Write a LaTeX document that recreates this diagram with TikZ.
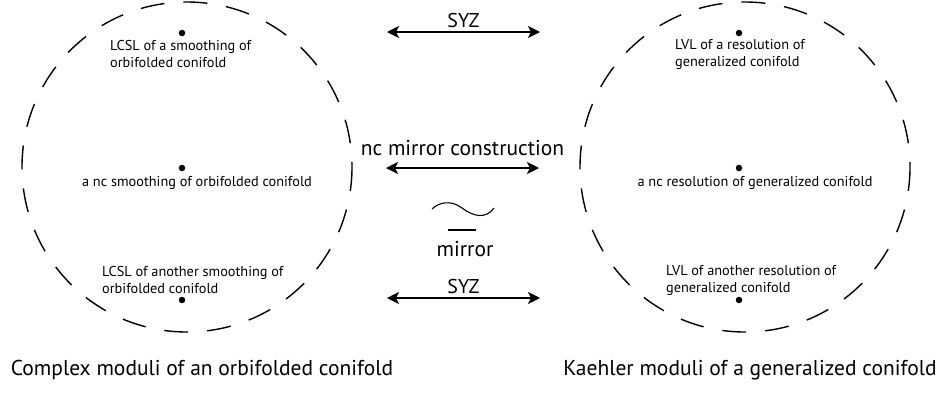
\documentclass[tikz,border=0pt]{standalone}
\usepackage{fontspec}
\setmainfont{PT Sans}
\usetikzlibrary{arrows.meta}
\begin{document}
\begin{tikzpicture}[x=1pt, y=-1pt,
	moduli/.style={draw=black, line width=1.4pt, dash pattern=on 24pt off 19pt},
	pt/.style={circle, fill=black, inner sep=0pt, minimum size=6.5pt},
	small/.style={font=\fontsize{14.3}{17}\selectfont, inner sep=0pt},
	big/.style={font=\fontsize{21.5}{24}\selectfont, inner sep=0pt},
	syz/.style={font=\fontsize{20}{22}\selectfont, inner sep=0pt},
	caption/.style={font=\fontsize{21.5}{24}\selectfont, inner sep=0pt},
	duality/.style={{Stealth[length=12pt,width=12pt,inset=3pt]}-{Stealth[length=12pt,width=12pt,inset=3pt]}, line width=1.4pt}]
	\useasboundingbox (0,0) rectangle (941,392);

	% the two moduli spaces
	\draw[moduli] (187,167) circle (165);
	\draw[moduli] (745,167) circle (165);

	% points in the complex moduli
	\node[pt](ltop) at (182,33){};
	\node[pt](lmid) at (182,168){};
	\node[pt](lbot) at (182,300){};
	% points in the kaehler moduli
	\node[pt](rtop) at (739,33){};
	\node[pt](rmid) at (739,168){};
	\node[pt](rbot) at (739,300){};

	\node[small, anchor=west, align=left](ltoptext) at (110,54){LCSL of a smoothing of\\orbifolded conifold};
	\node[small](lmidtext) at (197,183){a nc smoothing of orbifolded conifold};
	\node[small, anchor=west, align=left](lbottext) at (102,280){LCSL of another smoothing of\\orbifolded conifold};
	\node[small, anchor=west, align=left](rtoptext) at (675,54){LVL of a resolution of\\generalized conifold};
	\node[small](rmidtext) at (755,183){a nc resolution of generalized conifold};
	\node[small, anchor=west, align=left](rbottext) at (666,280){LVL of another resolution of\\generalized conifold};

	% arrows between the two sides
	\coordinate(syzl) at (387,32);
	\coordinate(syzr) at (540,32);
	\coordinate(ncl) at (386,168);
	\coordinate(ncr) at (539,168);
	\coordinate(syzbl) at (387,298);
	\coordinate(syzbr) at (540,298);
	\draw[duality] (syzl) -- node[syz, above=4pt]{SYZ} (syzr);
	\draw[duality] (ncl) -- node[big, above=12pt]{nc mirror construction} (ncr);
	\draw[duality] (syzbl) -- node[syz, above=4pt]{SYZ} (syzbr);

	% mirror sign
	\coordinate(tildel) at (432,209);
	\coordinate(tilder) at (494,208);
	\draw[line width=1.1pt] (tildel) .. controls (438,203) and (450,199) .. (462,208) .. controls (474,217) and (486,219) .. (tilder);
	\coordinate(barl) at (448,230);
	\coordinate(barr) at (476,230);
	\draw[line width=1.3pt] (barl) -- (barr);
	\node[big, anchor=base](mirror) at (465,256){mirror};

	\node[caption](lcap) at (202,370){Complex moduli of an orbifolded conifold};
	\node[caption](rcap) at (750,370){Kaehler moduli of a generalized conifold};
\end{tikzpicture}
\end{document}
